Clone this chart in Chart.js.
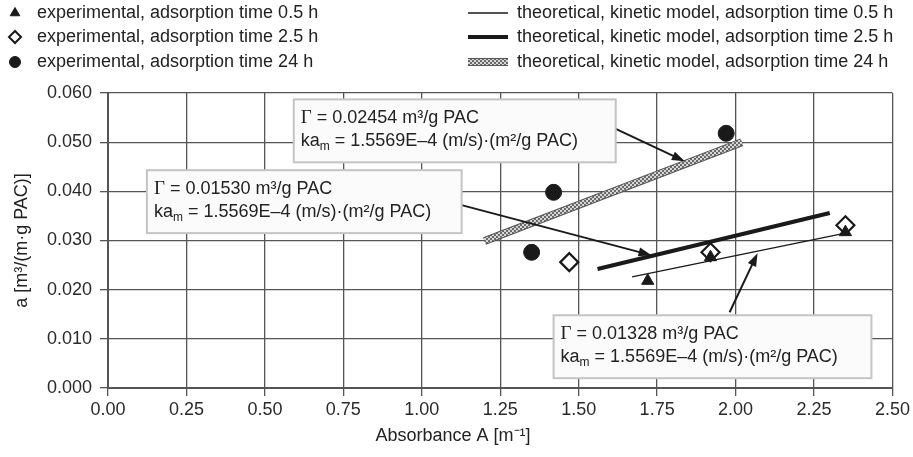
<!DOCTYPE html>
<html>
<head>
<meta charset="utf-8">
<title>Adsorption kinetics</title>
<script src="https://cdn.jsdelivr.net/npm/chart.js@4.4.0/dist/chart.umd.min.js"></script>
<style>
  html, body { margin: 0; padding: 0; background: #fff; }
  #wrap { position: relative; width: 913px; height: 457px; }
</style>
</head>
<body>
<div id="wrap"><canvas id="chart"></canvas></div>
<script>
// ---- Data ----
const xTickValues = [0, 0.25, 0.5, 0.75, 1.0, 1.25, 1.5, 1.75, 2.0, 2.25, 2.5];
const yTickValues = [0, 0.01, 0.02, 0.03, 0.04, 0.05, 0.06];

// experimental points (absorbance A, a)
const exp05X = [1.72, 1.92, 2.35];
const exp05Y = [0.0218, 0.0266, 0.0317];
const exp25X = [1.47, 1.92, 2.35];
const exp25Y = [0.0256, 0.0276, 0.0331];
const exp24X = [1.35, 1.42, 1.97];
const exp24Y = [0.0276, 0.0398, 0.0518];

// theoretical kinetic model lines (start / end)
const th05X = [1.67, 2.35];
const th05Y = [0.0226, 0.0315];
const th25X = [1.56, 2.30];
const th25Y = [0.0242, 0.0356];
const th24X = [1.20, 2.02];
const th24Y = [0.0299, 0.0500];

const legendLabels = [
  'experimental, adsorption time 0.5 h',
  'experimental, adsorption time 2.5 h',
  'experimental, adsorption time 24 h',
  'theoretical, kinetic model, adsorption time 0.5 h',
  'theoretical, kinetic model, adsorption time 2.5 h',
  'theoretical, kinetic model, adsorption time 24 h'
];

// annotation boxes: Γ value + arrow (data coordinates)
const boxGamma = ['0.02454', '0.01530', '0.01328'];
const boxRect = [            // [xLeft, yTop, xRight, yBottom]
  [0.592, 0.0587, 1.618, 0.0459],
  [0.124, 0.0443, 1.127, 0.0315],
  [1.420, 0.0148, 2.433, 0.0020]
];
const arrowFrom = [[1.608, 0.0530], [1.127, 0.0372], [1.981, 0.0154]];
const arrowTo   = [[1.838, 0.0461], [1.732, 0.0270], [2.070, 0.0274]];
const kamText = ' = 1.5569E\u20134 (m/s)\u00b7(m\u00b2/g PAC)';

const SANS = '"Liberation Sans", Arial, sans-serif';
const FONT_SIZE = 18;
const INK = '#1a1a1a';

function pts(xs, ys) {
  return xs.map((x, i) => ({ x: x, y: ys[i] }));
}

// grey textured stroke for the 24 h model line
function makeHatch(ctx) {
  const c = document.createElement('canvas');
  c.width = 4; c.height = 4;
  const g = c.getContext('2d');
  g.fillStyle = '#d6d6d6';
  g.fillRect(0, 0, 4, 4);
  g.fillStyle = '#6a6a6a';
  g.fillRect(0, 0, 2, 2);
  g.fillRect(2, 2, 2, 2);
  return ctx.createPattern(c, 'repeat');
}

const canvas = document.getElementById('chart');
const hatch = makeHatch(canvas.getContext('2d'));

const markerStyles = [
  { pointStyle: 'triangle', radius: 7, borderWidth: 1, borderColor: INK, backgroundColor: INK },
  { pointStyle: 'rectRot', radius: 9, borderWidth: 2.2, borderColor: INK, backgroundColor: '#fff' },
  { pointStyle: 'circle', radius: 8, borderWidth: 1, borderColor: INK, backgroundColor: INK }
];

function scatterSet(data, st, order) {
  return {
    data: data,
    showLine: false,
    pointStyle: st.pointStyle,
    pointRadius: st.radius,
    pointHoverRadius: st.radius,
    pointBorderWidth: st.borderWidth,
    pointBorderColor: st.borderColor,
    pointBackgroundColor: st.backgroundColor,
    order: order
  };
}

function lineSet(data, color, width, order) {
  return {
    data: data,
    showLine: true,
    borderColor: color,
    borderWidth: width,
    borderCapStyle: 'butt',
    pointRadius: 0,
    pointHoverRadius: 0,
    order: order
  };
}

// ---- Plugin: annotation boxes with arrows ----
function drawArrow(ctx, x0, y0, x1, y1) {
  const a = Math.atan2(y1 - y0, x1 - x0);
  const head = 13, half = 4.5;
  const c = Math.cos(a), s = Math.sin(a);
  ctx.strokeStyle = INK;
  ctx.fillStyle = INK;
  ctx.lineWidth = 2;
  ctx.beginPath();
  ctx.moveTo(x0, y0);
  ctx.lineTo(x1 - c * head * 0.8, y1 - s * head * 0.8);
  ctx.stroke();
  ctx.beginPath();
  ctx.moveTo(x1, y1);
  ctx.lineTo(x1 - head * c + half * s, y1 - head * s - half * c);
  ctx.lineTo(x1 - head * c - half * s, y1 - head * s + half * c);
  ctx.closePath();
  ctx.fill();
}

function drawBoxText(ctx, gamma, x, y1, y2) {
  ctx.fillStyle = '#222';
  ctx.textBaseline = 'middle';
  ctx.textAlign = 'left';
  // line 1: Γ = ... m³/g PAC
  ctx.font = (FONT_SIZE + 1) + 'px "Liberation Serif", serif';
  ctx.fillText('\u0393', x, y1);
  let w = ctx.measureText('\u0393').width;
  ctx.font = FONT_SIZE + 'px ' + SANS;
  ctx.fillText(' = ' + gamma + ' m\u00b3/g PAC', x + w, y1);
  // line 2: ka_m = ...
  ctx.fillText('ka', x, y2);
  w = ctx.measureText('ka').width;
  ctx.font = '12px ' + SANS;
  ctx.fillText('m', x + w, y2 + 5);
  const wm = ctx.measureText('m').width;
  ctx.font = FONT_SIZE + 'px ' + SANS;
  ctx.fillText(kamText, x + w + wm, y2);
}

const annotationPlugin = {
  id: 'boxAnnotations',
  afterDatasetsDraw(chart) {
    const ctx = chart.ctx;
    const xs = chart.scales.x, ys = chart.scales.y;
    ctx.save();
    boxRect.forEach((r, i) => {
      const fx = xs.getPixelForValue(arrowFrom[i][0]);
      const fy = ys.getPixelForValue(arrowFrom[i][1]);
      const tx = xs.getPixelForValue(arrowTo[i][0]);
      const ty = ys.getPixelForValue(arrowTo[i][1]);
      drawArrow(ctx, fx, fy, tx, ty);

      const l = xs.getPixelForValue(r[0]);
      const t = ys.getPixelForValue(r[1]);
      const rr = xs.getPixelForValue(r[2]);
      const b = ys.getPixelForValue(r[3]);
      ctx.fillStyle = '#fbfbfb';
      ctx.fillRect(l, t, rr - l, b - t);
      ctx.strokeStyle = '#c4c4c4';
      ctx.lineWidth = 2;
      ctx.strokeRect(l, t, rr - l, b - t);
      drawBoxText(ctx, boxGamma[i], l + 7, t + 19, t + 42);
    });
    ctx.restore();
  }
};

// ---- Plugin: two-column legend and axis titles ----
const legendTitlePlugin = {
  id: 'legendTitles',
  afterDraw(chart) {
    const ctx = chart.ctx;
    ctx.save();
    ctx.font = FONT_SIZE + 'px ' + SANS;
    ctx.textBaseline = 'middle';
    ctx.textAlign = 'left';
    const rowY = [13, 37, 62];

    // left column: markers
    const legendMarkers = [
      { pointStyle: 'triangle', radius: 5.5, borderWidth: 1 },
      { pointStyle: 'rectRot', radius: 6, borderWidth: 2 },
      { pointStyle: 'circle', radius: 5.5, borderWidth: 1 }
    ];
    legendMarkers.forEach((m, i) => {
      ctx.strokeStyle = INK;
      ctx.fillStyle = markerStyles[i].backgroundColor;
      ctx.lineWidth = m.borderWidth;
      Chart.helpers.drawPoint(ctx, { pointStyle: m.pointStyle, radius: m.radius, borderWidth: m.borderWidth, rotation: 0 }, 15, rowY[i]);
      ctx.fillStyle = '#222';
      ctx.fillText(legendLabels[i], 37, rowY[i]);
    });

    // right column: line samples
    const lineW = [1.5, 4, 6];
    lineW.forEach((lw, i) => {
      const y = rowY[i];
      if (i === 2) {
        ctx.strokeStyle = '#555';
        ctx.lineWidth = lw + 2;
        ctx.beginPath(); ctx.moveTo(468, y); ctx.lineTo(508, y); ctx.stroke();
        ctx.strokeStyle = hatch;
      } else {
        ctx.strokeStyle = INK;
      }
      ctx.lineWidth = lw;
      ctx.beginPath(); ctx.moveTo(468, y); ctx.lineTo(508, y); ctx.stroke();
      ctx.fillStyle = '#222';
      ctx.fillText(legendLabels[i + 3], 517, y);
    });

    // axis titles
    ctx.textAlign = 'center';
    ctx.fillText('Absorbance A [m\u207b\u00b9]', 453, 436);
    ctx.translate(22, (chart.chartArea.top + chart.chartArea.bottom) / 2);
    ctx.rotate(-Math.PI / 2);
    ctx.fillText('a [m\u00b3/(m\u00b7g PAC)]', 0, 0);
    ctx.restore();
  }
};

const axisGrid = { color: '#555', lineWidth: 1.3, tickLength: 8, drawTicks: true };

const config = {
  type: 'scatter',
  data: {
    datasets: [
      // 24 h model line: dark outline below textured stroke
      lineSet(pts(th24X, th24Y), '#555', 8, 6),
      lineSet(pts(th24X, th24Y), hatch, 6, 5),
      lineSet(pts(th25X, th25Y), INK, 4, 4),
      lineSet(pts(th05X, th05Y), INK, 1.5, 3),
      scatterSet(pts(exp24X, exp24Y), markerStyles[2], 2),
      scatterSet(pts(exp25X, exp25Y), markerStyles[1], 1),
      scatterSet(pts(exp05X, exp05Y), markerStyles[0], 0)   // triangles on top of diamonds
    ]
  },
  options: {
    responsive: true,
    maintainAspectRatio: false,
    animation: false,
    events: [],
    layout: { padding: { top: 93, right: 20, bottom: 0, left: 0 } },
    plugins: {
      legend: { display: false },
      tooltip: { enabled: false },
      title: { display: false }
    },
    scales: {
      x: {
        type: 'linear',
        min: 0,
        max: 2.5,
        afterBuildTicks: s => { s.ticks = xTickValues.map(v => ({ value: v })); },
        afterFit: s => { s.height = 69; },
        ticks: {
          color: '#2a2a2a',
          font: { family: SANS, size: FONT_SIZE },
          padding: 3,
          maxRotation: 0,
          callback: v => Number(v).toFixed(2)
        },
        grid: axisGrid,
        border: { display: true, color: '#555', width: 2 }
      },
      y: {
        type: 'linear',
        min: 0,
        max: 0.06,
        afterBuildTicks: s => { s.ticks = yTickValues.map(v => ({ value: v })); },
        afterFit: s => { s.width = 108; },
        ticks: {
          color: '#2a2a2a',
          font: { family: SANS, size: FONT_SIZE },
          padding: 8,
          callback: v => Number(v).toFixed(3)
        },
        grid: axisGrid,
        border: { display: true, color: '#555', width: 2 }
      }
    }
  },
  plugins: [annotationPlugin, legendTitlePlugin]
};

new Chart(canvas, config);
</script>
</body>
</html>
